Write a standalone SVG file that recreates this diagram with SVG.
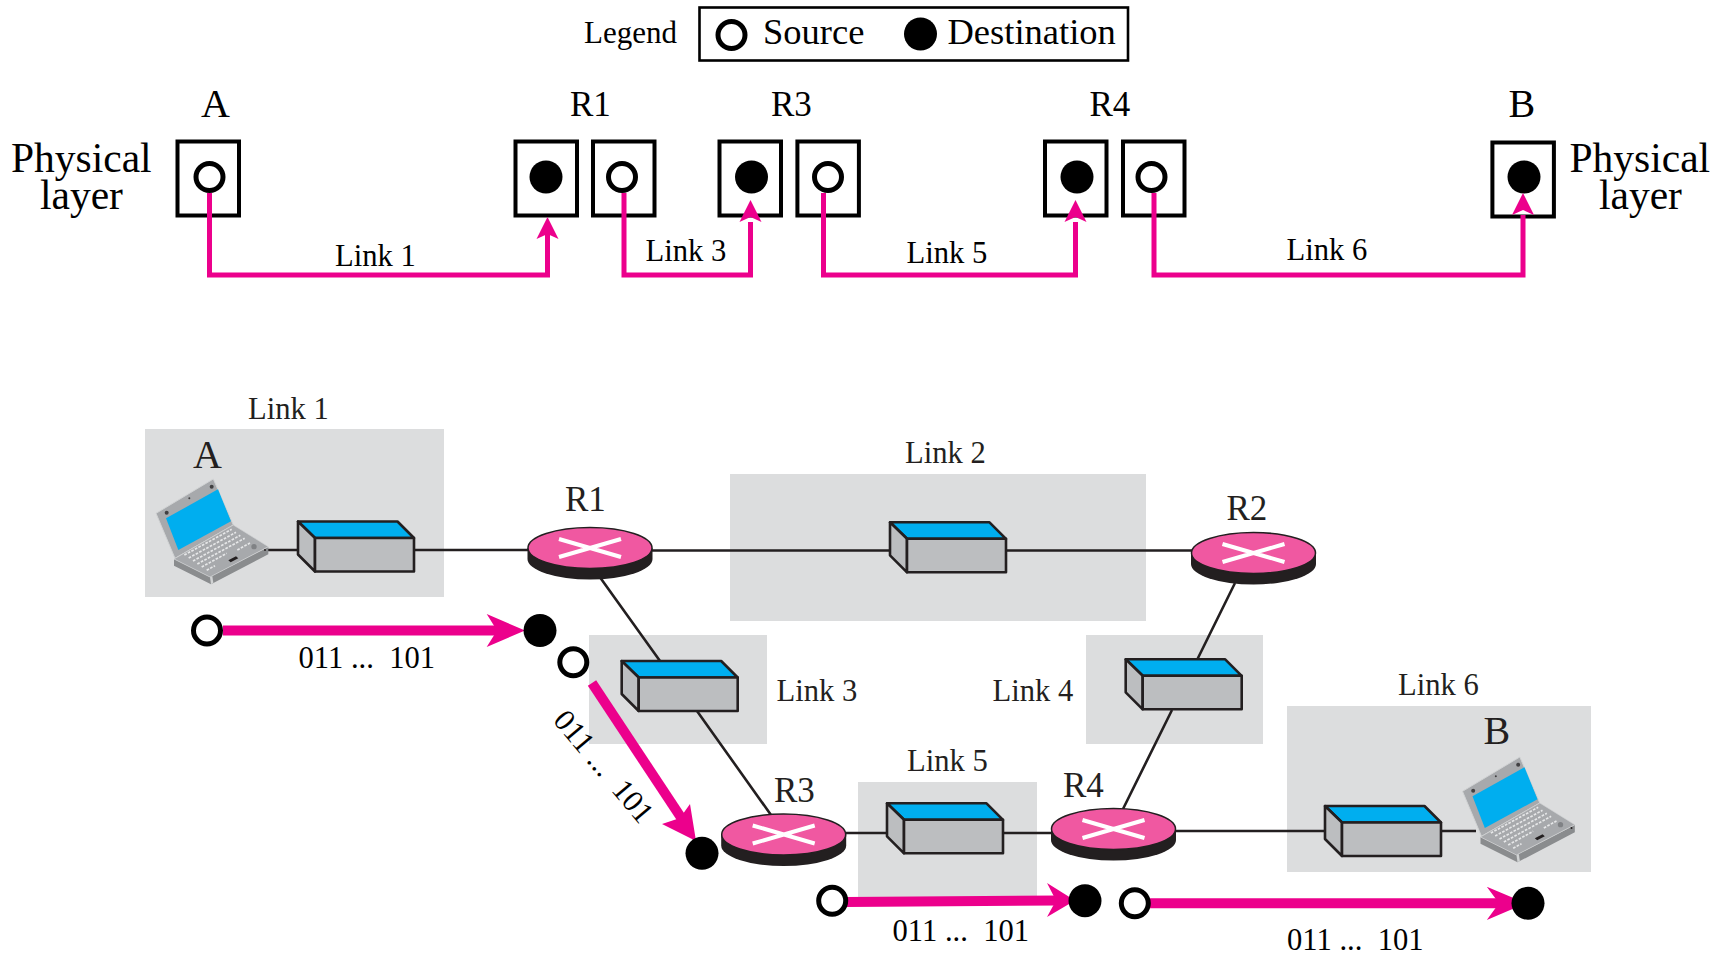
<svg xmlns="http://www.w3.org/2000/svg" width="1727" height="958" viewBox="0 0 1727 958">
<style>
text{font-family:"Liberation Serif","Times New Roman",serif;fill:#000}
.n30{font-size:30.600px;fill:#231f20}
.t30{font-size:30.600px;white-space:pre}
.r{font-size:35px;fill:#231f20}
.big{font-size:40px}
.phy{font-size:41.500px}
.leg{font-size:36.500px}
.bx{fill:#fff;stroke:#000;stroke-width:4}
.src{fill:#fff;stroke:#000;stroke-width:5}
.dst{fill:#000}
.bg{fill:#dcddde}
.wire{fill:none;stroke:#231f20;stroke-width:2.600}
.pl{fill:none;stroke:#ec008c;stroke-width:5}
.pt{fill:none;stroke:#ec008c;stroke-width:10}
.ph{fill:#ec008c}
.e{stroke:#231f20;stroke-width:2.600;stroke-linejoin:round}
</style>
<defs>
<path id="tip" class="ph" d="M0 0L11 22L0 17L-11 22Z"/>
<g id="switch">
<path class="e" fill="#00aeef" d="M0 0H99.500L116 16.500H17Z"/>
<path class="e" fill="#bcbec0" d="M0 0L17 16.500V50L0 33Z"/>
<rect class="e" fill="#bcbec0" x="17" y="16.500" width="99" height="33.500"/>
</g>
<g id="router">
<path fill="#231f20" d="M-62.500 0V11A62.500 20.500 0 0 0 62.500 11V0Z"/>
<ellipse cx="0" cy="0" rx="62" ry="20.500" fill="#f058a1" stroke="#231f20" stroke-width="1.500"/>
<path fill="none" stroke="#fff" stroke-width="4" d="M-31 -9L31 9M-31 9L31 -9"/>
</g>
<g id="laptop" transform="translate(150 475) scale(.3333)">
<path fill="#a7a9ac" stroke="#d1d3d4" stroke-width="3" d="M18 115L190 12L250 150L75 250Z"/>
<path fill="#00aeef" d="M48 130L204 43L243 139L85 225Z"/>
<circle cx="50" cy="113" r="6" fill="#414042"/><circle cx="185" cy="35" r="6" fill="#414042"/><circle cx="118" cy="70" r="3" fill="#414042"/>
<path fill="#8a8c8e" d="M72 252L72 272L183 328L355 238L355 216L180 306Z"/>
<path fill="#d1d3d4" d="M180 306L183 328L190 324L187 303Z"/>
<path fill="#a7a9ac" stroke="#d1d3d4" stroke-width="2" d="M72 252L250 150L355 215L180 306Z"/>
<g fill="none" stroke="#e6e7e8" stroke-width="5" stroke-dasharray="8 4">
<path d="M103 240L245 163"/><path d="M116 249L258 172"/><path d="M129 258L271 181"/><path d="M142 267L284 190"/><path d="M155 276L230 235"/><path d="M170 286L195 272"/><path d="M262 225L300 204"/>
</g>
<path fill="#231f20" d="M235 256L258 244L265 250L242 262Z"/>
<circle cx="312" cy="215" r="8" fill="#808285"/><circle cx="345" cy="225" r="3" fill="#231f20"/>
</g>
</defs>

<g id="link-backgrounds">
<rect class="bg" x="145" y="429" width="299" height="168"/>
<rect class="bg" x="730" y="474" width="416" height="147"/>
<rect class="bg" x="589" y="635" width="178" height="109"/>
<rect class="bg" x="1086" y="635" width="177" height="109"/>
<rect class="bg" x="858" y="782" width="179" height="115"/>
<rect class="bg" x="1287" y="706" width="304" height="166"/>
</g>

<g id="legend">
<text class="t30" x="584" y="43" style="font-size:31px">Legend</text>
<rect x="699.500" y="7.500" width="428.500" height="53" fill="#fff" stroke="#000" stroke-width="2.600"/>
<circle class="src" cx="731.500" cy="35" r="13.500"/>
<text class="leg" x="763" y="44">Source</text>
<circle class="dst" cx="920.500" cy="34" r="16.500"/>
<text class="leg" x="947.500" y="44">Destination</text>
</g>

<g id="stack-labels">
<text class="big" x="201" y="117">A</text>
<text class="r" x="570" y="116" style="fill:#000">R1</text>
<text class="r" x="771" y="116" style="fill:#000">R3</text>
<text class="r" x="1089.500" y="116" style="fill:#000">R4</text>
<text class="big" x="1508.500" y="117">B</text>
<text class="phy" x="11" y="172">Physical</text>
<text class="phy" x="40" y="209">layer</text>
<text class="phy" x="1569.500" y="172">Physical</text>
<text class="phy" x="1599" y="209">layer</text>
<text class="t30" x="335" y="266">Link 1</text>
<text class="t30" x="645.500" y="261">Link 3</text>
<text class="t30" x="906.500" y="263">Link 5</text>
<text class="t30" x="1286.500" y="260">Link 6</text>
</g>

<g id="stack-A"><rect class="bx" x="177.500" y="141.500" width="61.500" height="74"/><circle class="src" cx="209.500" cy="177" r="13.500"/></g>
<g id="stack-R1-in"><rect class="bx" x="515.500" y="141.500" width="61.500" height="74"/><circle class="dst" cx="546" cy="177" r="16.500"/></g>
<g id="stack-R1-out"><rect class="bx" x="593" y="141.500" width="61.500" height="74"/><circle class="src" cx="622" cy="177" r="13.500"/></g>
<g id="stack-R3-in"><rect class="bx" x="719.500" y="141.500" width="61.500" height="74"/><circle class="dst" cx="751.500" cy="177" r="16.500"/></g>
<g id="stack-R3-out"><rect class="bx" x="797.400" y="141.500" width="61.500" height="74"/><circle class="src" cx="828" cy="177" r="13.500"/></g>
<g id="stack-R4-in"><rect class="bx" x="1045" y="141.500" width="61.500" height="74"/><circle class="dst" cx="1077" cy="177" r="16.500"/></g>
<g id="stack-R4-out"><rect class="bx" x="1123" y="141.500" width="61.500" height="74"/><circle class="src" cx="1151.500" cy="177" r="13.500"/></g>
<g id="stack-B"><rect class="bx" x="1492.400" y="142.500" width="61.500" height="74"/><circle class="dst" cx="1524" cy="177" r="16.500"/></g>

<g id="connectors">
<path class="pl" d="M209.500 193V275H547.500V232"/><use href="#tip" x="547.500" y="217"/>
<path class="pl" d="M624 193V275H750.500V222"/><use href="#tip" x="750.500" y="200"/>
<path class="pl" d="M823.500 193V275H1075.500V222"/><use href="#tip" x="1075.500" y="200"/>
<path class="pl" d="M1154 193V275H1523V215"/><use href="#tip" x="1523" y="193"/>

<path class="wire" d="M268 550H298M415 550H528"/>
<path class="wire" d="M652 550.500H890M1006 550.500H1192"/>
<path class="wire" d="M600.500 578L660 661M697 711L771 815"/>
<path class="wire" d="M1235 583L1197 660M1172 710L1123 809"/>
<path class="wire" d="M846 833H887M1002 833H1052"/>
<path class="wire" d="M1175 831H1325M1441 831H1476"/>
</g>

<g id="network-labels">
<text class="n30" x="248" y="419">Link 1</text>
<text class="big" x="193" y="468" style="fill:#231f20">A</text>
<text class="r" x="565" y="511">R1</text>
<text class="n30" x="905" y="463">Link 2</text>
<text class="r" x="1226.500" y="519.500">R2</text>
<text class="n30" x="776.500" y="700.500">Link 3</text>
<text class="n30" x="992.500" y="700.500">Link 4</text>
<text class="r" x="774" y="802">R3</text>
<text class="n30" x="907" y="771">Link 5</text>
<text class="r" x="1063" y="796.500">R4</text>
<text class="n30" x="1398" y="694.500">Link 6</text>
<text class="big" x="1483.500" y="743.500" style="fill:#231f20">B</text>
</g>

<g id="laptop-A"><use href="#laptop"/></g>
<g id="laptop-B"><use href="#laptop" transform="translate(1306.500 278)"/></g>
<g id="switch-1"><use href="#switch" x="298" y="521.500"/></g>
<g id="switch-2"><use href="#switch" x="890" y="522.300"/></g>
<g id="switch-3"><use href="#switch" x="621.700" y="661"/></g>
<g id="switch-4"><use href="#switch" x="1125.700" y="659.300"/></g>
<g id="switch-5"><use href="#switch" x="887" y="803.300"/></g>
<g id="switch-6"><use href="#switch" x="1325" y="806"/></g>
<g id="router-R1"><use href="#router" x="590" y="548"/></g>
<g id="router-R2"><use href="#router" x="1253.500" y="553"/></g>
<g id="router-R3"><use href="#router" x="783.700" y="834.500"/></g>
<g id="router-R4"><use href="#router" x="1113.500" y="829"/></g>

<g id="flow-A-R1">
<path class="pt" d="M223 630.500H500"/>
<path class="ph" d="M525 630.500L486.700 614L497 630.500L486.700 647Z"/>
<circle class="src" cx="207" cy="630.500" r="13.500"/><circle class="dst" cx="540" cy="630.500" r="16.500"/>
<text class="t30" x="298.500" y="668">011 ...  101</text>
</g>
<g id="flow-R1-R3">
<path class="pt" d="M592 683L682 819"/>
<path class="ph" d="M696 841L690 804L680 818L662 824Z"/>
<circle class="src" cx="573.300" cy="662.300" r="13.500"/><circle class="dst" cx="702" cy="853.300" r="16.500"/>
<text class="t30" transform="translate(596 773) rotate(50)" text-anchor="middle">011 ...  101</text>
</g>
<g id="flow-R3-R4">
<path class="pt" d="M846 902L1058 900.500"/>
<path class="ph" d="M1075 900.500L1047 883L1056 900.500L1047 917Z"/>
<circle class="src" cx="832.200" cy="900.700" r="13.500"/><circle class="dst" cx="1085" cy="900.700" r="16.500"/>
<text class="t30" x="892.500" y="940.500">011 ...  101</text>
</g>
<g id="flow-R4-B">
<path class="pt" d="M1150 903.300H1500"/>
<path class="ph" d="M1526 903.300L1486.800 886.700L1499 903.300L1486.800 920Z"/>
<circle class="src" cx="1134.800" cy="903.300" r="13.500"/><circle class="dst" cx="1528" cy="903.300" r="16.500"/>
<text class="t30" x="1287" y="950">011 ...  101</text>
</g>
</svg>
